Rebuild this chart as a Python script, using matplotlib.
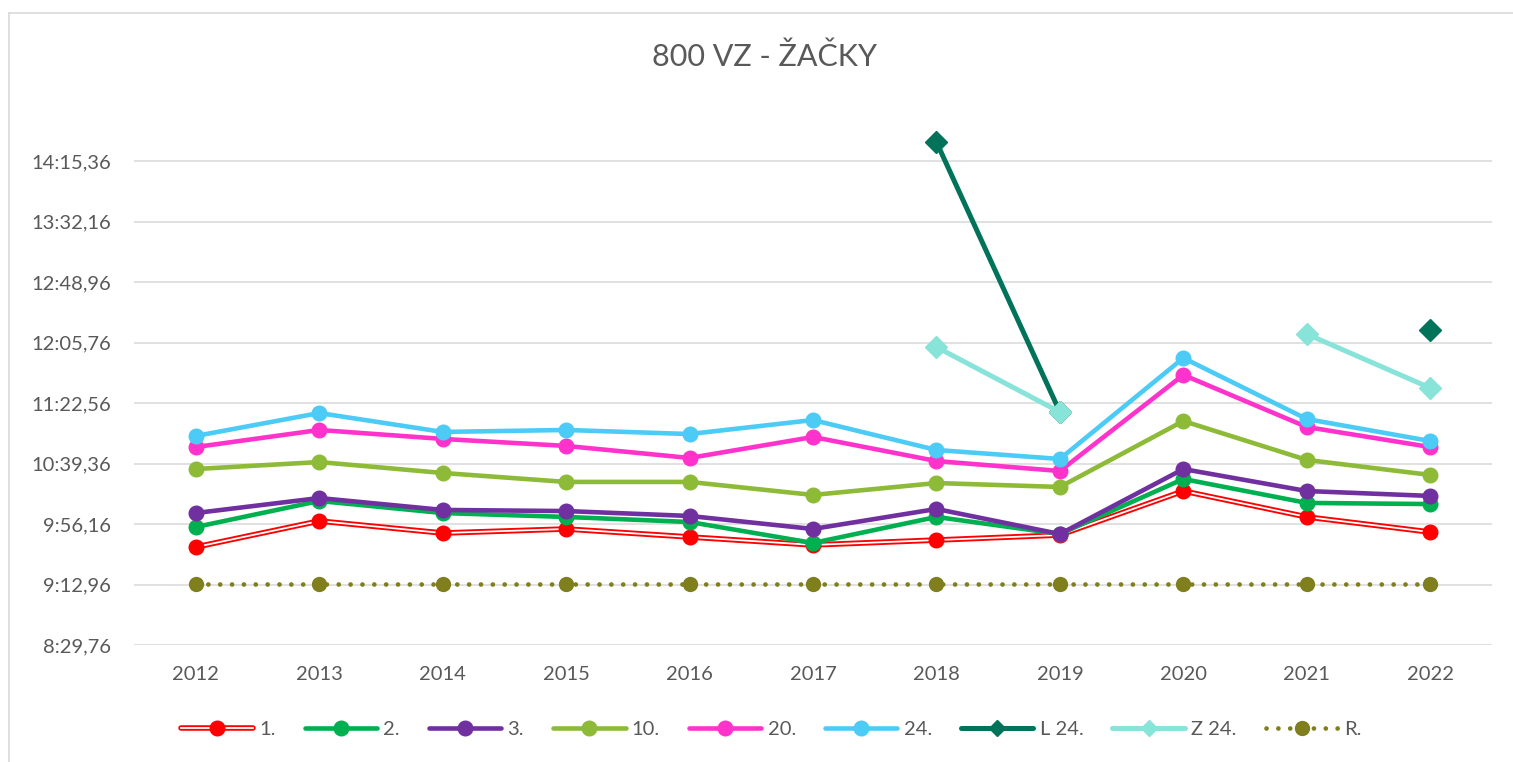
import matplotlib

matplotlib.use("Agg")
import matplotlib.pyplot as plt
import numpy as np
from matplotlib.lines import Line2D
from matplotlib.ticker import FixedLocator, FuncFormatter

# Times in seconds
years = ["2012", "2013", "2014", "2015", "2016", "2017", "2018", "2019", "2020", "2021", "2022"]
s1 = [579.7, 598.3, 589.7, 592.6, 586.9, 581.2, 584.7, 588.3, 619.7, 601.2, 590.4]
s2 = [594.0, 612.6, 604.0, 601.2, 597.6, 582.6, 601.2, 589.0, 628.3, 611.2, 610.4]
s3 = [604.0, 614.7, 606.2, 605.4, 601.9, 592.6, 606.9, 589.0, 635.4, 619.7, 616.2]
s10 = [635.4, 640.4, 632.6, 626.2, 626.2, 616.9, 625.4, 622.6, 669.7, 641.9, 631.2]
s20 = [651.1, 663.3, 656.9, 651.9, 643.3, 658.3, 641.1, 634.0, 702.6, 665.4, 651.1]
s24 = [659.0, 675.4, 661.9, 663.3, 660.4, 670.4, 649.0, 642.6, 714.7, 671.1, 655.4]
l24 = [None, None, None, None, None, None, 868.9, 676.1, None, None, 734.7]
z24 = [None, None, None, None, None, None, 722.5, 676.1, None, 731.8, 693.3]
rec = [553.0] * 11

y_ticks = [509.76, 552.96, 596.16, 639.36, 682.56, 725.76, 768.96, 812.16, 855.36]

GRAY = "#595959"
FS = 14.5
plt.rcParams["font.family"] = ["Lato", "DejaVu Sans"]


def fmt_time(v, pos=None):
    cs = int(round(v * 100))
    m, rest = divmod(cs, 6000)
    s, c = divmod(rest, 100)
    return f"{m}:{s:02d},{c:02d}"


def arr(vals):
    return np.array([np.nan if v is None else v for v in vals], dtype=float)


fig = plt.figure(figsize=(15.13, 7.62), dpi=100)
ax = fig.add_axes([134 / 1513, 1 - 645 / 762, (1492 - 134) / 1513, (645 - 100.5) / 762])
x = np.arange(len(years))

lw = 3.3
ms = 10.5
# 1. - double red line
ax.plot(x, s1, color="#FF0000", lw=4.0, solid_capstyle="round", zorder=3)
ax.plot(x, s1, color="white", lw=1.3, zorder=3)
ax.plot(x, s1, ls="none", marker="o", ms=ms, color="#FF0000", zorder=3)

series = [
    (s2, "#00B050", "o"),
    (s3, "#7030A0", "o"),
    (s10, "#8DBB38", "o"),
    (s20, "#FF33CC", "o"),
    (s24, "#4BCBF5", "o"),
]
for vals, col, mk in series:
    ax.plot(x, vals, color=col, lw=lw, marker=mk, ms=ms, solid_capstyle="round", zorder=3)

ax.plot(x, arr(l24), color="#00735A", lw=3.6, marker="D", ms=11, zorder=3)
ax.plot(x, arr(z24), color="#88E3D8", lw=3.6, marker="D", ms=11, zorder=3)
ax.plot(x, rec, color="#7F7F1E", lw=3.4, ls=(0, (0.01, 2.5)), dash_capstyle="round",
        marker="o", ms=10, zorder=3)

ax.set_xlim(-0.5, len(years) - 0.5)
ax.set_ylim(509.76, 898.56)
ax.set_xticks(x)
ax.set_xticklabels(years)
ax.yaxis.set_major_locator(FixedLocator(y_ticks))
ax.yaxis.set_major_formatter(FuncFormatter(fmt_time))
ax.tick_params(length=0, labelsize=FS, colors=GRAY)
ax.tick_params(axis="y", pad=16.5)
ax.tick_params(axis="x", pad=15)
ax.grid(axis="y", color="#D9D9D9", lw=1.1)
ax.set_axisbelow(True)
for sp in ax.spines.values():
    sp.set_visible(False)

fig.text(765 / 1513, 1 - 57 / 762, "800 VZ - ŽAČKY", ha="center", va="center",
         fontsize=22, color=GRAY)

# legend
h1 = (Line2D([], [], color="#FF0000", lw=4.0, solid_capstyle="round"),
      Line2D([], [], color="white", lw=1.3),
      Line2D([], [], ls="none", marker="o", ms=ms, color="#FF0000"))
handles = [h1]
for vals, col, mk in series:
    handles.append(Line2D([], [], color=col, lw=lw, marker=mk, ms=ms, solid_capstyle="round"))
handles.append(Line2D([], [], color="#00735A", lw=3.6, marker="D", ms=8, solid_capstyle="round"))
handles.append(Line2D([], [], color="#88E3D8", lw=3.6, marker="D", ms=8, solid_capstyle="round"))
handles.append(Line2D([], [], color="#7F7F1E", lw=3.4, ls=(0, (0.01, 2.5)),
                      dash_capstyle="round", marker="o", ms=10))
labels = ["1.", "2.", "3.", "10.", "20.", "24.", "L 24.", "Z 24.", "R."]
leg = fig.legend(handles, labels, loc="center", bbox_to_anchor=(771 / 1513, 1 - 729 / 762),
                 ncol=9, frameon=False, fontsize=FS, handlelength=3.6, columnspacing=1.45,
                 handletextpad=0.3)
for t in leg.get_texts():
    t.set_color(GRAY)

# chart border (left and top edges visible)
fig.add_artist(Line2D([8.5 / 1513, 8.5 / 1513], [0, 1 - 12.5 / 762], transform=fig.transFigure,
                      color="#D9D9D9", lw=1.2))
fig.add_artist(Line2D([8.5 / 1513, 1], [1 - 12.5 / 762, 1 - 12.5 / 762], transform=fig.transFigure,
                      color="#D9D9D9", lw=1.2))

fig.savefig("out.png", dpi=100)
